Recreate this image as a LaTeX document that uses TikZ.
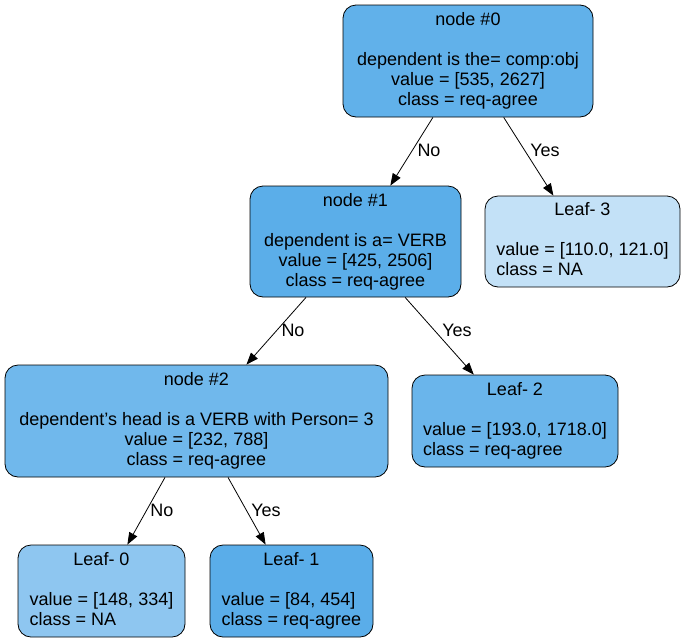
\documentclass[tikz,border=0pt]{standalone}
\usepackage{fontspec}
\setmainfont{Liberation Sans}
\usetikzlibrary{arrows.meta}

\definecolor{cN0}{HTML}{61B1EA}
\definecolor{cN1}{HTML}{5BAEE9}
\definecolor{cN2}{HTML}{70B8EC}
\definecolor{cL0}{HTML}{8EC6F0}
\definecolor{cL1}{HTML}{5AADE9}
\definecolor{cL2}{HTML}{6AB5EB}
\definecolor{cL3}{HTML}{C3E1F7}

% leaf text: centred title, then left-aligned lines
\newcommand{\leaftext}[3]{\begin{tabular}{@{}l@{}}\multicolumn{1}{@{}c@{}}{#1}\\ \\ #2\\ #3\end{tabular}}

\tikzset{
  box/.style={draw=black, line width=0.8pt, rounded corners=13pt,
    inner sep=0pt, font=\fontsize{18}{20}\selectfont},
  split/.style={box, align=center},
  leaf/.style={box},
  edge/.style={line width=0.8pt, -{Triangle[length=12pt,width=9pt]}},
  elab/.style={font=\fontsize{18}{20}\selectfont, inner sep=0pt}
}

\begin{document}
\begin{tikzpicture}[x=1pt, y=-1pt]
  \useasboundingbox (0,0) rectangle (687,643);

  % decision nodes
  \node[split, fill=cN0, minimum width=250pt, minimum height=112pt] (n0) at (468,61)
    {node \#0\\ \mbox{}\\ dependent is the= comp:obj\\ value = [535, 2627]\\ class = req-agree};
  \node[split, fill=cN1, minimum width=211pt, minimum height=111pt] (n1) at (355.5,241.5)
    {node \#1\\ \mbox{}\\ dependent is a= VERB\\ value = [425, 2506]\\ class = req-agree};
  \node[split, fill=cN2, minimum width=383pt, minimum height=112pt] (n2) at (196.5,421)
    {node \#2\\ \mbox{}\\ dependent's head is a VERB with Person= 3\\ value = [232, 788]\\ class = req-agree};

  % leaves
  \node[leaf, fill=cL3, minimum width=195pt, minimum height=91pt] (l3) at (582.5,241.5)
    {\leaftext{Leaf- 3}{value = [110.0, 121.0]}{class = NA}};
  \node[leaf, fill=cL2, minimum width=206pt, minimum height=92pt] (l2) at (515,421)
    {\leaftext{Leaf- 2}{value = [193.0, 1718.0]}{class = req-agree}};
  \node[leaf, fill=cL0, minimum width=167pt, minimum height=92pt] (l0) at (101.5,591)
    {\leaftext{Leaf- 0}{value = [148, 334]}{class = NA}};
  \node[leaf, fill=cL1, minimum width=163pt, minimum height=92pt] (l1) at (291.5,591)
    {\leaftext{Leaf- 1}{value = [84, 454]}{class = req-agree}};

  % connectors
  \draw[edge] (n0) -- (n1);
  \draw[edge] (n0) -- (l3);
  \draw[edge] (n1) -- (n2);
  \draw[edge] (n1) -- (l2);
  \draw[edge] (n2) -- (l0);
  \draw[edge] (n2) -- (l1);

  % connector labels
  \node[elab] (e01) at (429,150) {No};
  \node[elab] (e03) at (545,150) {Yes};
  \node[elab] (e12) at (293,330) {No};
  \node[elab] (e1l) at (457,330) {Yes};
  \node[elab] (e20) at (162,510) {No};
  \node[elab] (e21) at (266,510) {Yes};
\end{tikzpicture}
\end{document}
